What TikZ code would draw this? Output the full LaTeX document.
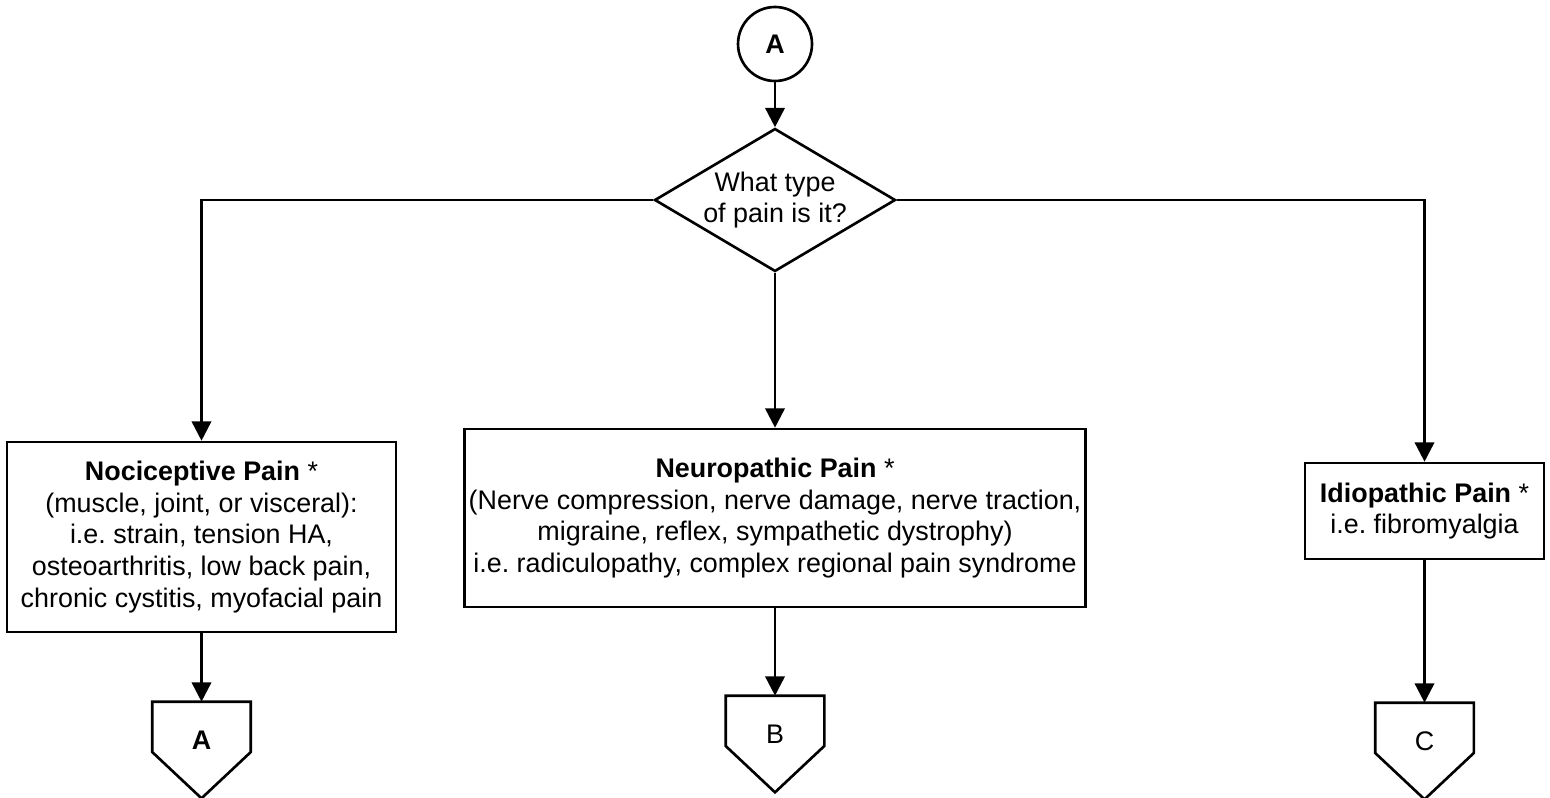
\documentclass[tikz,border=0pt]{standalone}
\usepackage{fontspec}
\setmainfont{Liberation Sans}
\usepackage{tikz}
\usetikzlibrary{shapes,arrows.meta,positioning,calc}
\frenchspacing

\begin{document}
\begin{tikzpicture}[
    x=0.02cm, y=-0.02cm,
    font=\fontsize{15.3pt}{18.1pt}\selectfont,
    every node/.style={line width=1.5pt},
    connector/.style={circle, draw, minimum size=1.48cm, inner sep=0pt},
    decision/.style={diamond, draw, aspect=1.685, inner sep=0pt, minimum width=4.82cm, minimum height=2.86cm, align=center},
    painbox/.style={rectangle, draw, align=center, inner sep=0pt},
    offpage/.style={minimum width=1.92cm, minimum height=1.48cm, inner sep=0pt},
    direction/.style={-{Triangle[length=11pt, width=11pt]}, line width=1.5pt}
]
    \useasboundingbox (0,0) rectangle (1550,797);

    % Start and question
    \node[connector] (start) at (775,44) {\textbf{A}};
    \node[decision] (type) at (775,200) {What type\\of pain is it?};

    % Three kinds of pain
    \node[painbox, minimum width=7.78cm, minimum height=3.8cm] (noci) at (201.5,537) {
        \textbf{Nociceptive Pain} *\\
        (muscle, joint, or visceral):\\
        i.e. strain, tension HA,\\
        osteoarthritis, low back pain,\\
        chronic cystitis, myofacial pain};
    \node[painbox, minimum width=12.42cm, minimum height=3.56cm] (neuro) at (775,518) {
        \textbf{Neuropathic Pain} *\\
        (Nerve compression, nerve damage, nerve traction,\\
        migraine, reflex, sympathetic dystrophy)\\
        i.e. radiculopathy, complex regional pain syndrome};
    \node[painbox, minimum width=4.78cm, minimum height=1.92cm] (idio) at (1424.5,511) {
        \textbf{Idiopathic Pain} *\\
        i.e. fibromyalgia};

    % Off-page connectors
    \node[offpage] (offA) at (201.5,740) {\textbf{A}};
    \node[offpage] (offB) at (775,734) {B};
    \node[offpage] (offC) at (1424.5,741) {C};
    \foreach \n in {offA,offB,offC}
        \draw[line width=1.5pt, line join=miter] (\n.north west) -- (\n.north east)
            -- ($(\n.east)+(0,12)$) -- ($(\n.south)+(0,20)$)
            -- ($(\n.west)+(0,12)$) -- cycle;

    % Flow lines
    \draw[direction] (start) -- (type);
    \draw[direction] (type.west) -| (noci);
    \draw[direction] (type.south) -- (neuro);
    \draw[direction] (type.east) -| (idio);
    \draw[direction] (noci) -- (offA.north);
    \draw[direction] (neuro) -- (offB.north);
    \draw[direction] (idio) -- (offC.north);
\end{tikzpicture}
\end{document}
